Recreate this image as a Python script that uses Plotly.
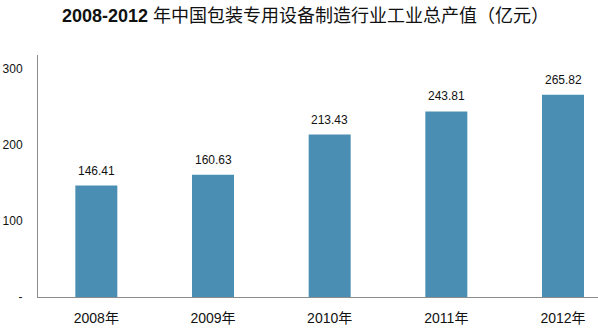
import plotly.graph_objects as go

categories = ["2008年", "2009年", "2010年", "2011年", "2012年"]
values = [146.41, 160.63, 213.43, 243.81, 265.82]
tick_vals = [0, 100, 200, 300]
tick_text = ["-", "100", "200", "300"]
title_text = "<b>2008-2012</b> 年中国包装专用设备制造行业工业总产值（亿元）"

font_family = "Arial, Liberation Sans, Noto Sans CJK SC, sans-serif"

xs = list(range(len(categories)))

fig = go.Figure(go.Bar(
    x=xs,
    y=values,
    width=0.36,
    marker=dict(color="#4A8FB3", line=dict(width=0)),
    hoverinfo="skip",
))

for x, v in zip(xs, values):
    fig.add_annotation(
        x=x, y=v, xref="x", yref="y",
        text=f"{v:.2f}", showarrow=False,
        yanchor="bottom", yshift=6,
        font=dict(size=12, color="#111111", family=font_family),
    )

fig.add_annotation(
    text=title_text, xref="paper", yref="paper",
    x=(305 - 38) / 560, y=1, yanchor="middle",
    xanchor="center", yshift=55 - 16, showarrow=False,
    font=dict(size=18, color="#111111", family=font_family),
)

fig.update_layout(
    width=598, height=333,
    margin=dict(l=38, r=0, t=55, b=36),
    paper_bgcolor="white",
    plot_bgcolor="white",
    showlegend=False,
    font=dict(family=font_family, color="#111111"),
)
fig.update_xaxes(
    range=[-0.5, 4.3],
    tickvals=xs,
    ticktext=categories,
    showline=True, linecolor="#8c8c8c", linewidth=1,
    showgrid=False, zeroline=False, ticks="",
    ticklabelstandoff=8,
    tickfont=dict(size=14, color="#111111"),
)
fig.update_yaxes(
    range=[0, 318],
    tickvals=tick_vals,
    ticktext=tick_text,
    showline=True, linecolor="#8c8c8c", linewidth=1,
    showgrid=False, zeroline=False, ticks="",
    ticklabelstandoff=12,
    tickfont=dict(size=12, color="#111111"),
)

fig.write_html("out.html")
